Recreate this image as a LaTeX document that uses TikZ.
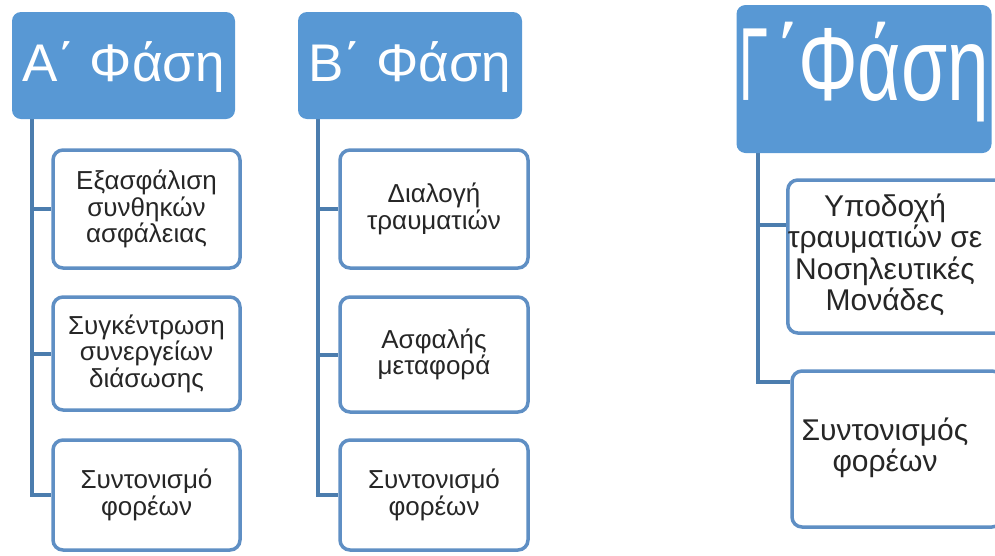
\documentclass[tikz,border=0pt]{standalone}
\usepackage{fontspec}
\setmainfont{Liberation Sans}
\usetikzlibrary{calc}
\pgfdeclarelayer{bg}
\pgfsetlayers{bg,main}
\definecolor{headblue}{RGB}{88,152,212}
\definecolor{boxline}{RGB}{95,143,196}
\definecolor{linkline}{RGB}{76,125,174}
\definecolor{bodytext}{RGB}{38,38,38}

\begin{document}
\begin{tikzpicture}[x=1pt,y=-1pt,
  phasehead/.style={rectangle, rounded corners=9pt, fill=headblue, text=white,
    inner sep=0pt, font=\fontsize{53}{60}\selectfont,
    text height=40pt, text depth=8pt},
  taskbox/.style={rectangle, rounded corners=10pt, draw=boxline, line width=3.5pt,
    fill=white, inner sep=0pt, align=center, text=bodytext,
    font=\fontsize{26}{26.5}\selectfont},
  widebox/.style={taskbox, font=\fontsize{30}{29}\selectfont},
  link/.style={draw=linkline, line width=4pt}]

\useasboundingbox (0,0) rectangle (995,555);
\clip (0,0) rectangle (995,555);

% Phase A
\node[phasehead, minimum width=223pt, minimum height=107pt] (hA) at (123.5,65.5) {Α΄ Φάση};
\node[taskbox, minimum width=187pt, minimum height=118pt] (a1) at (146.5,209) {Εξασφάλιση\\συνθηκών\\ασφάλειας};
\node[taskbox, minimum width=187pt, minimum height=113pt] (a2) at (146.5,353.5) {Συγκέντρωση\\συνεργείων\\διάσωσης};
\node[taskbox, minimum width=187pt, minimum height=110pt] (a3) at (146.5,495) {Συντονισμό\\φορέων};

% Phase B
\node[phasehead, minimum width=224pt, minimum height=107pt] (hB) at (410,65.5) {Β΄ Φάση};
\node[taskbox, minimum width=188pt, minimum height=118pt] (b1) at (434,209) {Διαλογή\\τραυματιών};
\node[taskbox, minimum width=188pt, minimum height=115pt] (b2) at (434,354.5) {Ασφαλής\\μεταφορά};
\node[taskbox, minimum width=188pt, minimum height=110pt] (b3) at (434,495) {Συντονισμό\\φορέων};

% Phase C (larger heading, narrow letters)
\node[phasehead, minimum width=255pt, minimum height=148pt,
  font=\fontsize{104}{110}\selectfont, text height=62pt, text depth=20pt] (hC) at (864,79)
  {\scalebox{0.72}[1]{\scalebox{0.7}[1]{Γ}\kern0.1em΄\kern-0.03emΦάση}};
\node[widebox, minimum width=210pt, minimum height=153pt] (c1) at (897,256.5)
  {\begin{tabular}{@{}c@{\hspace{24pt}}}Υποδοχή\\τραυματιών σε\\Νοσηλευτικές\\Μονάδες\end{tabular}};
\node[widebox, minimum width=210pt, minimum height=156pt] (c2) at (897,449)
  {\begin{tabular}{@{}c@{\hspace{24pt}}}Συντονισμός\\φορέων\end{tabular}};

% Trunk start points below each heading
\coordinate (sA) at ($(hA.south west)+(20,0)$);
\coordinate (sB) at ($(hB.south west)+(20,0)$);
\coordinate (sC) at ($(hC.south west)+(22,0)$);

\begin{pgfonlayer}{bg}
  \draw[link] (sA) |- (a3.west);
  \draw[link] (sA |- a1.west) -- (a1.west);
  \draw[link] (sA |- a2.west) -- (a2.west);

  \draw[link] (sB) |- (b3.west);
  \draw[link] (sB |- b1.west) -- (b1.west);
  \draw[link] (sB |- b2.west) -- (b2.west);

  \draw[link] (sC) |- (c2.148);
  \draw[link] (sC |- c1.164) -- (c1.164);
\end{pgfonlayer}
\end{tikzpicture}
\end{document}
